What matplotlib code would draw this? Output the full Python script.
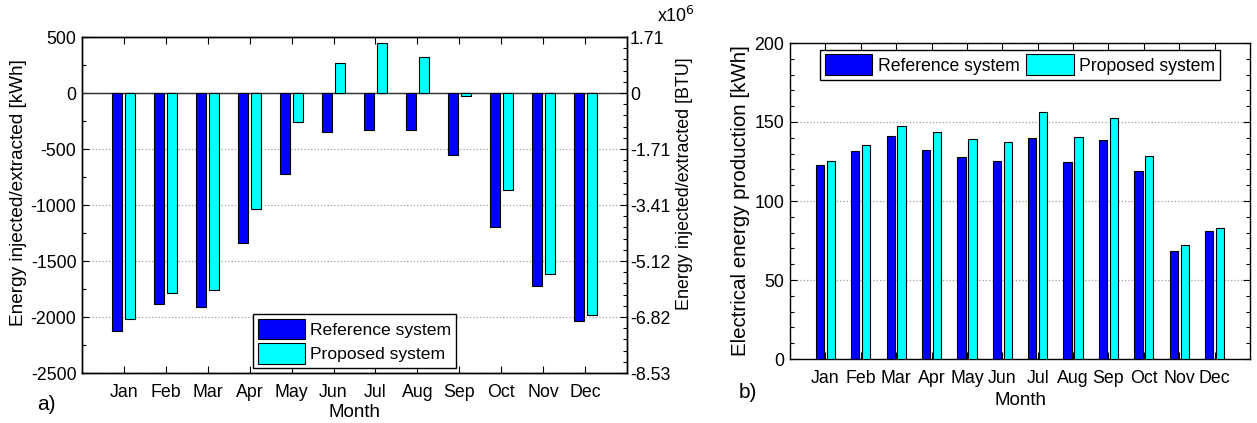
import matplotlib.pyplot as plt
import numpy as np
from matplotlib.ticker import MultipleLocator, FixedLocator

plt.rcParams['font.family'] = ['Liberation Sans', 'DejaVu Sans']
plt.rcParams['axes.unicode_minus'] = False

months = ["Jan", "Feb", "Mar", "Apr", "May", "Jun",
          "Jul", "Aug", "Sep", "Oct", "Nov", "Dec"]

# a) energy injected/extracted [kWh]
inj_ref = [-2125, -1880, -1915, -1340, -725, -345,
           -328, -333, -553, -1200, -1720, -2040]
inj_prop = [-2015, -1785, -1755, -1040, -260, 272,
            442, 318, -25, -866, -1615, -1982]

# b) electrical energy production [kWh]
prod_ref = [123, 131.8, 141.2, 132.5, 127.8, 125.1,
            140, 124.5, 138.6, 119, 68.5, 80.8]
prod_prop = [125.6, 135.2, 147.5, 143.4, 139.2, 137.2,
             156.2, 140.7, 152.8, 128.5, 72, 82.7]

KWH_TO_BTU = 3412.14
c_ref = "#0000ff"
c_prop = "#00ffff"
W, H = 1257, 423
fs = 12.8

fig = plt.figure(figsize=(W / 100, H / 100), dpi=100)


def px_axes(left, top, right, bottom):
    return fig.add_axes([left / W, 1 - bottom / H, (right - left) / W, (bottom - top) / H])


def style(ax):
    for s in ax.spines.values():
        s.set_linewidth(1.0)
        s.set_color("black")
    ax.tick_params(which="both", direction="in", labelsize=fs)
    ax.tick_params(which="major", length=5, width=0.8)
    ax.tick_params(which="minor", length=3, width=0.8)
    ax.tick_params(axis="x", which="both", top=True, bottom=True)


x = np.arange(1, 13)
bw = 0.235
off = 0.155

# ---------- panel a ----------
ax = px_axes(82, 37, 627, 373)
ax.bar(x - off, inj_ref, bw, color=c_ref, edgecolor="black", linewidth=0.8,
       label="Reference system", zorder=3)
ax.bar(x + off, inj_prop, bw, color=c_prop, edgecolor="black", linewidth=0.8,
       label="Proposed system", zorder=3)
ax.axhline(0, color="#303030", linewidth=1.0, zorder=2)
ax.set_xlim(0, 13)
ax.set_ylim(-2500, 500)
ax.set_xticks(x)
ax.set_xticklabels(months)
ax.yaxis.set_major_locator(MultipleLocator(500))
ax.yaxis.set_minor_locator(MultipleLocator(250))
ax.grid(axis="y", which="major", linestyle=":", color="#a0a0a0", linewidth=0.9, zorder=1)
style(ax)
ax.tick_params(axis="y", which="both", right=False)
ax.tick_params(axis="x", pad=8)
ax.tick_params(axis="y", pad=4)
ax.set_ylabel("Energy injected/extracted [kWh]", fontsize=13.7, va="center")
ax.yaxis.set_label_coords(-0.117, 0.537)
ax.set_xlabel("Month", fontsize=13.5)
ax.xaxis.set_label_coords(0.5, -0.093)
leg = ax.legend(loc="lower center", bbox_to_anchor=(0.5, 0.015), fontsize=12.6,
                fancybox=False, edgecolor="black", framealpha=1,
                handlelength=2.7, handleheight=1.45, borderpad=0.25,
                labelspacing=0.2, handletextpad=0.3, borderaxespad=0)
leg.get_frame().set_linewidth(1.0)

ax2 = ax.twinx()
ax2.set_ylim(-2500 * KWH_TO_BTU / 1e6, 500 * KWH_TO_BTU / 1e6)
btu_major = [v * KWH_TO_BTU / 1e6 for v in range(-2500, 501, 500)]
ax2.yaxis.set_major_locator(FixedLocator(btu_major))
ax2.yaxis.set_minor_locator(MultipleLocator(100 * KWH_TO_BTU / 1e6))
ax2.set_yticklabels(["0" if abs(v) < 1e-9 else "%.2f" % v for v in btu_major])
style(ax2)
ax2.tick_params(axis="y", pad=2)
ax2.set_ylabel("Energy injected/extracted [BTU]", fontsize=12.9, va="center")
ax2.yaxis.set_label_coords(1.105, 0.562)
fig.text(657 / W, 1 - 16 / H, r"x10$^6$", fontsize=fs, ha="left", va="center")
fig.text(46 / W, 1 - 404 / H, "a)", fontsize=15, ha="center", va="center")

# ---------- panel b ----------
bx = px_axes(790, 43, 1250, 359)
bx.bar(x - off, prod_ref, bw, color=c_ref, edgecolor="black", linewidth=0.8,
       label="Reference system", zorder=3)
bx.bar(x + off, prod_prop, bw, color=c_prop, edgecolor="black", linewidth=0.8,
       label="Proposed system", zorder=3)
bx.set_xlim(0, 13)
bx.set_ylim(0, 200)
bx.set_xticks(x)
bx.set_xticklabels(months)
bx.yaxis.set_major_locator(MultipleLocator(50))
bx.yaxis.set_minor_locator(MultipleLocator(10))
bx.grid(axis="y", which="major", linestyle=":", color="#a0a0a0", linewidth=0.9, zorder=1)
style(bx)
bx.tick_params(axis="y", which="both", right=True)
bx.tick_params(axis="x", pad=8)
bx.tick_params(axis="y", pad=4)
bx.set_ylabel("Electrical energy production [kWh]", fontsize=14.8, va="center")
bx.yaxis.set_label_coords(-0.107, 0.5)
bx.set_xlabel("Month", fontsize=13.5)
bx.xaxis.set_label_coords(0.5, -0.105)
leg = bx.legend(loc="upper center", bbox_to_anchor=(0.5, 0.978), ncol=2, fontsize=12.7,
                fancybox=False, edgecolor="black", framealpha=1,
                handlelength=2.7, handleheight=1.45, borderpad=0.25,
                columnspacing=0.4, handletextpad=0.3, borderaxespad=0)
leg.get_frame().set_linewidth(1.0)
fig.text(748 / W, 1 - 392 / H, "b)", fontsize=15, ha="center", va="center")

fig.savefig("out.png", dpi=100)
